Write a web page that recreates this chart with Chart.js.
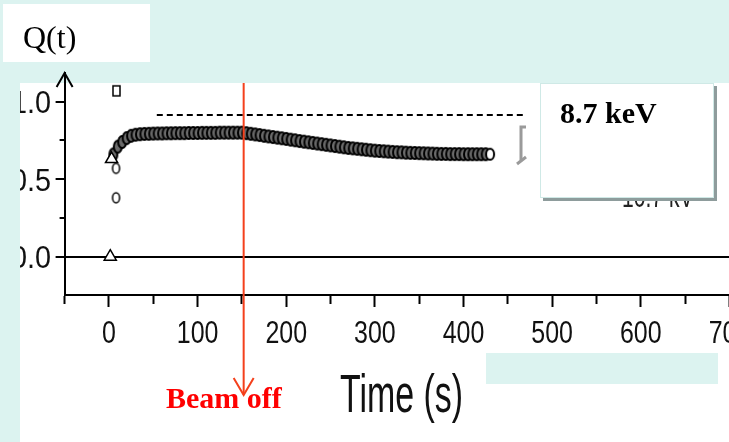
<!DOCTYPE html>
<html>
<head>
<meta charset="utf-8">
<script src="https://cdn.jsdelivr.net/npm/chart.js"></script>
<style>
  html, body { margin: 0; padding: 0; background: #dcf3f0; overflow: hidden; }
  #wrap { width: 729px; height: 442px; overflow: hidden; }
</style>
</head>

<body>
<div id="wrap">
  <canvas id="myChart" width="800" height="442"></canvas>
</div>

<script>
  // Q(t) readings, circles (dense run)
  const circleT = [5, 10, 15, 20, 25, 30, 35, 40, 45, 50, 55, 60, 65, 70, 75, 80, 85, 90, 95, 100,
    105, 110, 115, 120, 125, 130, 135, 140, 145, 150, 155, 160, 165, 170, 175, 180, 185, 190, 195, 200,
    205, 210, 215, 220, 225, 230, 235, 240, 245, 250, 255, 260, 265, 270, 275, 280, 285, 290, 295, 300,
    305, 310, 315, 320, 325, 330, 335, 340, 345, 350, 355, 360, 365, 370, 375, 380, 385, 390, 395, 400,
    405, 410, 415, 420, 425, 430];
  const circleQ = [0.66, 0.71, 0.74, 0.765, 0.78, 0.787, 0.79, 0.792, 0.793, 0.794, 0.795, 0.795, 0.796, 0.796, 0.797, 0.797, 0.797, 0.798, 0.798, 0.798,
    0.799, 0.799, 0.799, 0.799, 0.80, 0.80, 0.80, 0.80, 0.80, 0.80, 0.797, 0.793, 0.789, 0.785, 0.78, 0.776, 0.772, 0.768, 0.764, 0.76,
    0.755, 0.751, 0.746, 0.742, 0.738, 0.734, 0.73, 0.726, 0.722, 0.718, 0.714, 0.71, 0.706, 0.702, 0.699, 0.696, 0.693, 0.69, 0.687, 0.684,
    0.682, 0.68, 0.678, 0.676, 0.674, 0.673, 0.671, 0.67, 0.669, 0.668, 0.667, 0.666, 0.665, 0.664, 0.663, 0.663, 0.662, 0.662, 0.662, 0.661,
    0.661, 0.661, 0.661, 0.661, 0.661, 0.661];
  const openCircleT = [8, 8];
  const openCircleQ = [0.38, 0.57];
  const triangleT = [1.5, 3];
  const triangleQ = [0, 0.63];
  const squareT = [8.5];
  const squareQ = [1.07];
  const dashT = [54, 469];
  const dashQ = [0.914, 0.914];
  const beamOffT = 152;

  const xMin = -50, xMax = 770, xStep = 50;
  const yMin = -0.247, yMax = 1.185, yStep = 0.25;

  const cyan = '#dcf3f0';
  const pts = (xs, ys) => xs.map((v, i) => ({x: v, y: ys[i]}));

  function makeMark(w, h, shape, fill, lw) {
    const cv = document.createElement('canvas');
    cv.width = w + 4; cv.height = h + 4;
    const c = cv.getContext('2d');
    c.fillStyle = fill; c.strokeStyle = '#000'; c.lineWidth = lw || 1.5;
    c.beginPath();
    if (shape === 'ellipse') c.ellipse(cv.width / 2, cv.height / 2, w / 2, h / 2, 0, 0, Math.PI * 2);
    else c.rect(2, 2, w, h);
    c.fill(); c.stroke();
    return cv;
  }
  const ellipseDark = makeMark(8, 12, 'ellipse', '#6a6a6a', 2);
  const ellipseLast = makeMark(8, 11, 'ellipse', '#fff', 2);
  const smallEllipse = makeMark(7, 10, 'ellipse', '#fff');
  const rectMark = makeMark(7, 10, 'rect', '#fff');

  function squish(c, text, x, y, size, sx, align, family) {
    c.save();
    c.translate(x, y);
    c.scale(sx, 1);
    c.font = size + 'px ' + (family || '"Liberation Sans", Arial, sans-serif');
    c.textAlign = align;
    c.textBaseline = 'alphabetic';
    c.fillText(text, 0, 0);
    c.restore();
  }

  const slide = {
    id: 'slide',
    beforeDraw(chart) {
      const c = chart.ctx;
      c.save();
      c.fillStyle = cyan;
      c.fillRect(0, 0, chart.width, chart.height);
      c.fillStyle = '#fff';
      c.fillRect(20, 83, chart.width - 20, chart.height - 83);
      c.fillRect(3, 4, 147, 58);
      c.restore();
    },
    afterDraw(chart) {
      const c = chart.ctx, xs = chart.scales.x, ys = chart.scales.y, area = chart.chartArea;
      c.save();
      c.fillStyle = '#111';
      xs.ticks.forEach(t => { if (t.label) squish(c, t.label, xs.getPixelForValue(t.value), 343, 32, 0.78, 'center'); });
      ys.ticks.forEach(t => { if (t.label) squish(c, t.label, 51, ys.getPixelForValue(t.value) + 11.5, 32, 0.9, 'right'); });
      squish(c, 'Time (s)', 340, 412, 53, 0.64, 'left');

      // arrow head on the y axis
      c.strokeStyle = '#000'; c.lineWidth = 2;
      c.beginPath();
      c.moveTo(area.left - 8, area.top + 14); c.lineTo(area.left, area.top); c.lineTo(area.left + 8, area.top + 14);
      c.stroke();

      // beam off marker
      const bx = xs.getPixelForValue(beamOffT);
      c.strokeStyle = '#f4401c'; c.lineWidth = 2;
      c.beginPath(); c.moveTo(bx, 83); c.lineTo(bx, 395); c.stroke();
      c.beginPath(); c.moveTo(bx - 10, 378); c.lineTo(bx, 395); c.lineTo(bx + 10, 378); c.stroke();
      c.fillStyle = '#ff0000';
      c.font = 'bold 30px "Liberation Serif", "Times New Roman", serif';
      c.textAlign = 'left'; c.textBaseline = 'alphabetic';
      c.fillText('Beam off', 166, 408);

      // grey bracket
      c.strokeStyle = '#9a9a9a'; c.lineWidth = 3;
      c.beginPath(); c.moveTo(526, 127); c.lineTo(521, 127); c.lineTo(521, 160); c.stroke();
      c.beginPath(); c.moveTo(517, 164); c.lineTo(526, 157); c.stroke();

      // hidden label behind the box
      c.fillStyle = '#222';
      squish(c, '10.7 kV', 622, 207, 32, 0.66, 'left');

      // 8.7 keV box
      c.fillStyle = '#8e9c9c';
      c.fillRect(543, 86, 174, 115);
      c.fillStyle = '#fff';
      c.fillRect(540, 83, 174, 115);
      c.strokeStyle = '#cfe9e6'; c.lineWidth = 1;
      c.strokeRect(540.5, 83.5, 173, 114);
      c.fillStyle = '#000';
      c.font = 'bold 30px "Liberation Serif", "Times New Roman", serif';
      c.fillText('8.7 keV', 560, 123);

      // slide cut-outs
      c.fillStyle = cyan;
      c.fillRect(486, 353, 232, 31);
      c.fillRect(0, 83, 20, chart.height - 83);

      c.fillStyle = '#000';
      c.font = '32px "Liberation Serif", "Times New Roman", serif';
      c.fillText('Q(t)', 23, 48);
      c.restore();
    }
  };

  const ctx = document.getElementById('myChart');
  new Chart(ctx, {
    type: 'scatter',
    data: {
      datasets: [
        { label: 'triangles', data: pts(triangleT, triangleQ), order: 0,
          pointStyle: 'triangle', pointRadius: 7, backgroundColor: '#fff', borderColor: '#000', borderWidth: 1.5 },
        { label: 'squares', data: pts(squareT, squareQ), order: 1, pointStyle: rectMark },
        { label: 'open circles', data: pts(openCircleT, openCircleQ), order: 2, pointStyle: smallEllipse },
        { label: 'circles', data: pts(circleT, circleQ), order: 3,
          pointStyle: c => c.dataIndex === circleT.length - 1 ? ellipseLast : ellipseDark },
        { label: 'level', type: 'line', data: pts(dashT, dashQ), order: 4, showLine: true,
          borderColor: '#000', borderWidth: 2, borderDash: [6, 4], pointRadius: 0, fill: false }
      ]
    },
    options: {
      responsive: false,
      animation: false,
      layout: { padding: { top: 73, left: 0, right: 0, bottom: 0 } },
      plugins: { legend: { display: false }, tooltip: { enabled: false } },
      scales: {
        x: {
          type: 'linear', min: xMin, max: xMax,
          afterFit(s) { s.height = 147; },
          border: { color: '#000', width: 2 },
          grid: {
            drawOnChartArea: false, tickLength: 12, tickColor: '#000', tickWidth: 2,
            tickBorderDash: c => (c.tick && c.tick.value % 100 === 0) ? [] : [8, 100]
          },
          ticks: {
            display: false, stepSize: xStep, includeBounds: false, autoSkip: false, maxRotation: 0,
            callback: v => v % 100 === 0 ? String(v) : ''
          }
        },
        y: {
          min: yMin, max: yMax,
          afterFit(s) { s.width = 64.6; },
          border: { color: '#000', width: 2 },
          grid: {
            color: c => (c.tick && c.tick.value === 0) ? '#000' : 'rgba(0,0,0,0)',
            lineWidth: 2, tickLength: 9, tickColor: '#000', tickWidth: 2,
            tickBorderDash: c => (c.tick && Math.abs(c.tick.value * 2 - Math.round(c.tick.value * 2)) < 1e-9) ? [] : [0, 4, 5, 100]
          },
          ticks: {
            display: false, stepSize: yStep, includeBounds: false,
            callback: v => Math.abs(v * 2 - Math.round(v * 2)) < 1e-9 ? v.toFixed(1) : ''
          }
        }
      }
    },
    plugins: [slide]
  });
</script>
</body>
</html>
